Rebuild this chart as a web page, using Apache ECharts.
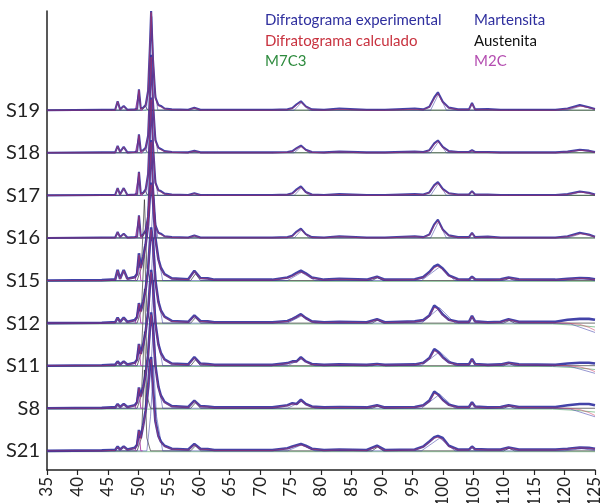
<!DOCTYPE html>
<html>
<head>
<meta charset="utf-8">
<script src="https://cdn.jsdelivr.net/npm/echarts@6/dist/echarts.min.js"></script>
<style>
  html, body { margin: 0; padding: 0; background: #fff; }
  #chart { width: 601px; height: 503px; }
</style>
</head>
<body>
<div id="chart"></div>
<script>
// 2θ (graus) comum a todos os difratogramas experimentais/calculados
var theta = [35, 44, 45.6, 45.9, 46.2, 46.6, 47.0, 47.6, 48.2, 49.4, 49.8, 50.1, 50.4, 50.8, 51.2, 51.6, 51.9, 52.1, 52.4, 52.8,
  53.3, 53.7, 54.3, 55.5, 58.2, 59.2, 60.2, 61.4, 62.5, 72, 74.5, 75.3, 76.0, 76.7, 77.5, 78.5, 80.5, 83, 87.5, 89.2,
  90.5, 95.4, 96.8, 97.8, 98.6, 99.2, 100.0, 101.0, 102.5, 104.3, 104.8, 105.3, 107.4, 109.5, 110.8, 112.5, 118.5, 120.5, 122.5, 124, 125]

// amostras, de baixo para cima
var samples = ['S21', 'S8', 'S11', 'S12', 'S15', 'S16', 'S17', 'S18', 'S19']
var xTicks = [35, 40, 45, 50, 55, 60, 65, 70, 75, 80, 85, 90, 95, 100, 105, 110, 115, 120, 125]

// difratograma experimental (intensidade relativa)
var expS19 = [0, 0.01, 0.01, 0.05, 0.01, 0.21, 0.02, 0.10, 0.01, 0.02, 0.03, 0.49, 0.04, 0.06, 0.12, 0.45, 1.5, 2.33, 1.2, 0.3,
  0.12, 0.1, 0.04, 0.02, 0.01, 0.06, 0.01, 0.01, 0.01, 0.01, 0.02, 0.05, 0.14, 0.21, 0.09, 0.02, 0.01, 0.04, 0.01, 0.01,
  0.01, 0.04, 0.02, 0.08, 0.30, 0.42, 0.20, 0.06, 0.02, 0.02, 0.17, 0.02, 0.03, 0.01, 0.01, 0.01, 0.01, 0.04, 0.12, 0.07, 0.03]
var expS18 = [0, 0.01, 0.01, 0.04, 0.01, 0.16, 0.02, 0.14, 0.01, 0.02, 0.03, 0.43, 0.04, 0.06, 0.12, 0.4, 1.4, 2.3, 1.2, 0.3,
  0.12, 0.09, 0.04, 0.02, 0.01, 0.05, 0.01, 0.01, 0.01, 0.01, 0.02, 0.04, 0.11, 0.17, 0.07, 0.02, 0.01, 0.03, 0.01, 0.01,
  0.01, 0.03, 0.02, 0.06, 0.22, 0.29, 0.14, 0.04, 0.02, 0.02, 0.06, 0.02, 0.02, 0.01, 0.01, 0.01, 0.01, 0.03, 0.07, 0.05, 0.02]
var expS17 = [0, 0.01, 0.01, 0.04, 0.01, 0.17, 0.02, 0.17, 0.01, 0.02, 0.03, 0.55, 0.04, 0.06, 0.14, 0.5, 1.5, 2.3, 1.2, 0.3,
  0.12, 0.1, 0.04, 0.02, 0.01, 0.05, 0.01, 0.01, 0.01, 0.01, 0.02, 0.05, 0.14, 0.21, 0.08, 0.02, 0.01, 0.03, 0.01, 0.01,
  0.01, 0.03, 0.02, 0.07, 0.24, 0.31, 0.15, 0.05, 0.02, 0.02, 0.1, 0.02, 0.02, 0.01, 0.01, 0.01, 0.01, 0.03, 0.09, 0.06, 0.02]
var expS16 = [0, 0.01, 0.01, 0.04, 0.01, 0.14, 0.02, 0.10, 0.01, 0.02, 0.03, 0.53, 0.04, 0.08, 0.18, 0.5, 1.5, 2.3, 1.2, 0.3,
  0.12, 0.1, 0.04, 0.02, 0.01, 0.06, 0.01, 0.01, 0.01, 0.01, 0.02, 0.05, 0.15, 0.22, 0.09, 0.02, 0.01, 0.04, 0.01, 0.01,
  0.01, 0.04, 0.02, 0.08, 0.32, 0.43, 0.2, 0.06, 0.02, 0.02, 0.12, 0.02, 0.03, 0.01, 0.01, 0.01, 0.01, 0.04, 0.12, 0.08, 0.03]
var expS15 = [0, 0.01, 0.02, 0.05, 0.02, 0.25, 0.04, 0.25, 0.04, 0.08, 0.15, 0.64, 0.3, 0.55, 0.85, 1.3, 2.0, 2.3, 1.9, 1.0,
  0.5, 0.3, 0.15, 0.05, 0.03, 0.23, 0.06, 0.05, 0.02, 0.02, 0.07, 0.12, 0.18, 0.23, 0.17, 0.07, 0.02, 0.04, 0.02, 0.09,
  0.02, 0.03, 0.08, 0.2, 0.33, 0.37, 0.28, 0.12, 0.03, 0.02, 0.09, 0.03, 0.02, 0.03, 0.07, 0.03, 0.02, 0.04, 0.06, 0.05, 0.03]
var expS12 = [0, 0.01, 0.02, 0.04, 0.02, 0.13, 0.03, 0.13, 0.03, 0.07, 0.14, 0.47, 0.28, 0.5, 0.8, 1.25, 1.9, 2.25, 1.9, 1.0,
  0.5, 0.3, 0.15, 0.05, 0.03, 0.18, 0.05, 0.04, 0.02, 0.02, 0.05, 0.1, 0.15, 0.21, 0.12, 0.04, 0.02, 0.03, 0.02, 0.09,
  0.02, 0.04, 0.07, 0.18, 0.41, 0.35, 0.2, 0.08, 0.03, 0.03, 0.17, 0.04, 0.02, 0.03, 0.09, 0.03, 0.03, 0.08, 0.1, 0.1, 0.08]
var expS11 = [0, 0.01, 0.02, 0.04, 0.02, 0.1, 0.03, 0.1, 0.03, 0.07, 0.14, 0.51, 0.28, 0.5, 0.8, 1.25, 1.9, 2.25, 1.9, 1.0,
  0.5, 0.3, 0.15, 0.05, 0.03, 0.2, 0.05, 0.04, 0.02, 0.02, 0.06, 0.1, 0.1, 0.2, 0.1, 0.04, 0.02, 0.03, 0.02, 0.04,
  0.02, 0.03, 0.07, 0.18, 0.39, 0.33, 0.2, 0.08, 0.03, 0.03, 0.16, 0.04, 0.02, 0.03, 0.07, 0.03, 0.02, 0.05, 0.07, 0.07, 0.05]
var expS8 = [0, 0.01, 0.02, 0.04, 0.02, 0.1, 0.03, 0.1, 0.03, 0.07, 0.14, 0.49, 0.28, 0.5, 0.8, 1.25, 1.9, 2.25, 1.9, 1.0,
  0.5, 0.3, 0.15, 0.05, 0.03, 0.18, 0.05, 0.04, 0.02, 0.02, 0.07, 0.12, 0.1, 0.2, 0.1, 0.04, 0.02, 0.03, 0.02, 0.07,
  0.02, 0.03, 0.07, 0.18, 0.39, 0.33, 0.2, 0.08, 0.03, 0.03, 0.14, 0.04, 0.02, 0.03, 0.07, 0.03, 0.03, 0.07, 0.1, 0.1, 0.07]
var expS21 = [0, 0.01, 0.02, 0.04, 0.02, 0.1, 0.03, 0.1, 0.03, 0.07, 0.14, 0.49, 0.3, 0.6, 0.95, 1.5, 2.1, 2.2, 1.5, 0.7,
  0.35, 0.22, 0.12, 0.05, 0.03, 0.16, 0.05, 0.04, 0.02, 0.02, 0.06, 0.1, 0.13, 0.16, 0.12, 0.05, 0.02, 0.03, 0.02, 0.12,
  0.02, 0.03, 0.1, 0.22, 0.32, 0.35, 0.3, 0.12, 0.03, 0.03, 0.1, 0.04, 0.03, 0.03, 0.08, 0.03, 0.03, 0.05, 0.08, 0.07, 0.05]

// difratograma calculado
var calcS19 = [0, 0, 0, 0.04, 0, 0.2, 0.01, 0.09, 0, 0.01, 0.02, 0.47, 0.03, 0.05, 0.1, 0.42, 1.45, 2.3, 1.25, 0.28,
  0.1, 0.08, 0.03, 0.01, 0, 0.05, 0, 0, 0, 0, 0.01, 0.04, 0.12, 0.19, 0.08, 0.01, 0, 0.02, 0, 0,
  0, 0.02, 0.01, 0.07, 0.27, 0.39, 0.18, 0.05, 0.01, 0.01, 0.15, 0.01, 0.01, 0, 0, 0, 0, 0.03, 0.1, 0.06, 0.02]
var calcS18 = [0, 0, 0, 0.03, 0, 0.15, 0.01, 0.13, 0, 0.01, 0.02, 0.41, 0.03, 0.05, 0.1, 0.38, 1.35, 2.25, 1.2, 0.28,
  0.1, 0.07, 0.03, 0.01, 0, 0.04, 0, 0, 0, 0, 0.01, 0.03, 0.1, 0.15, 0.06, 0.01, 0, 0.02, 0, 0,
  0, 0.02, 0.01, 0.05, 0.2, 0.27, 0.12, 0.03, 0.01, 0.01, 0.05, 0.01, 0.01, 0, 0, 0, 0, 0.02, 0.06, 0.04, 0.01]
var calcS17 = [0, 0, 0, 0.03, 0, 0.16, 0.01, 0.16, 0, 0.01, 0.02, 0.53, 0.03, 0.05, 0.12, 0.47, 1.45, 2.25, 1.2, 0.28,
  0.1, 0.08, 0.03, 0.01, 0, 0.04, 0, 0, 0, 0, 0.01, 0.04, 0.12, 0.19, 0.07, 0.01, 0, 0.02, 0, 0,
  0, 0.02, 0.01, 0.06, 0.22, 0.29, 0.13, 0.04, 0.01, 0.01, 0.09, 0.01, 0.01, 0, 0, 0, 0, 0.02, 0.08, 0.05, 0.01]
var calcS16 = [0, 0, 0, 0.03, 0, 0.13, 0.01, 0.09, 0, 0.01, 0.02, 0.51, 0.03, 0.07, 0.16, 0.47, 1.45, 2.25, 1.2, 0.28,
  0.1, 0.08, 0.03, 0.01, 0, 0.05, 0, 0, 0, 0, 0.01, 0.04, 0.13, 0.2, 0.08, 0.01, 0, 0.03, 0, 0,
  0, 0.03, 0.01, 0.07, 0.29, 0.4, 0.18, 0.05, 0.01, 0.01, 0.11, 0.01, 0.02, 0, 0, 0, 0, 0.03, 0.1, 0.07, 0.02]
var calcS15 = [0, 0, 0.01, 0.04, 0.01, 0.23, 0.03, 0.23, 0.03, 0.07, 0.13, 0.6, 0.28, 0.52, 0.82, 1.25, 1.95, 2.25, 1.85, 0.95,
  0.47, 0.28, 0.13, 0.04, 0.02, 0.21, 0.05, 0.04, 0.01, 0.01, 0.06, 0.1, 0.16, 0.2, 0.15, 0.06, 0.01, 0.03, 0.01, 0.08,
  0.01, 0.02, 0.07, 0.18, 0.3, 0.34, 0.26, 0.1, 0.02, 0.01, 0.08, 0.02, 0.01, 0.02, 0.06, 0.02, 0.01, 0.03, 0.05, 0.04, 0.02]
var calcS12 = [0, 0, 0.01, 0.03, 0.01, 0.12, 0.02, 0.12, 0.02, 0.06, 0.12, 0.45, 0.26, 0.48, 0.78, 1.2, 1.85, 2.2, 1.85, 0.95,
  0.47, 0.28, 0.13, 0.04, 0.02, 0.16, 0.04, 0.03, 0.01, 0.01, 0.04, 0.09, 0.14, 0.19, 0.11, 0.03, 0.01, 0.02, 0.01, 0.08,
  0.01, 0.03, 0.06, 0.16, 0.37, 0.33, 0.18, 0.07, 0.02, 0.02, 0.15, 0.03, 0.01, 0.02, 0.08, 0.02, 0.01, 0.0, -0.03, -0.1, -0.17]
var calcS11 = [0, 0, 0.01, 0.03, 0.01, 0.09, 0.02, 0.09, 0.02, 0.06, 0.12, 0.49, 0.26, 0.48, 0.78, 1.2, 1.85, 2.2, 1.85, 0.95,
  0.47, 0.28, 0.13, 0.04, 0.02, 0.18, 0.04, 0.03, 0.01, 0.01, 0.05, 0.09, 0.09, 0.18, 0.09, 0.03, 0.01, 0.02, 0.01, 0.03,
  0.01, 0.02, 0.06, 0.16, 0.35, 0.31, 0.18, 0.07, 0.02, 0.02, 0.14, 0.03, 0.01, 0.02, 0.06, 0.02, 0.01, 0.0, -0.03, -0.08, -0.14]
var calcS8 = [0, 0, 0.01, 0.03, 0.01, 0.09, 0.02, 0.09, 0.02, 0.06, 0.12, 0.47, 0.26, 0.48, 0.78, 1.2, 1.85, 2.2, 1.85, 0.95,
  0.47, 0.28, 0.13, 0.04, 0.02, 0.16, 0.04, 0.03, 0.01, 0.01, 0.06, 0.1, 0.09, 0.18, 0.09, 0.03, 0.01, 0.02, 0.01, 0.06,
  0.01, 0.02, 0.06, 0.16, 0.35, 0.31, 0.18, 0.07, 0.02, 0.02, 0.12, 0.03, 0.01, 0.02, 0.06, 0.02, 0.01, 0.0, -0.03, -0.1, -0.17]
var calcS21 = [0, 0, 0.01, 0.03, 0.01, 0.09, 0.02, 0.09, 0.02, 0.06, 0.12, 0.47, 0.28, 0.57, 0.9, 1.45, 2.05, 2.15, 1.45, 0.66,
  0.32, 0.2, 0.1, 0.04, 0.02, 0.14, 0.04, 0.03, 0.01, 0.01, 0.05, 0.09, 0.12, 0.14, 0.1, 0.04, 0.01, 0.02, 0.01, 0.1,
  0.01, 0.02, 0.09, 0.2, 0.3, 0.32, 0.27, 0.1, 0.02, 0.02, 0.09, 0.03, 0.02, 0.02, 0.07, 0.02, 0.02, 0.04, 0.07, 0.06, 0.04]

// fases ajustadas: pares [2θ, intensidade]
var martS19 = [[35, 0], [51.3, 0], [51.8, 0.6], [52.2, 2.2], [52.6, 0.6], [53.2, 0], [75.6, 0], [76.8, 0.18], [78, 0], [98, 0], [99.3, 0.38], [100.6, 0], [120.5, 0], [122.7, 0.1], [125, 0.02]]
var martS18 = [[35, 0], [51.3, 0], [51.8, 0.6], [52.2, 2.2], [52.6, 0.6], [53.2, 0], [75.6, 0], [76.8, 0.15], [78, 0], [98, 0], [99.3, 0.26], [100.6, 0], [120.5, 0], [122.7, 0.06], [125, 0.01]]
var martS17 = [[35, 0], [51.3, 0], [51.8, 0.6], [52.2, 2.2], [52.6, 0.6], [53.2, 0], [75.6, 0], [76.8, 0.18], [78, 0], [98, 0], [99.3, 0.28], [100.6, 0], [120.5, 0], [122.7, 0.08], [125, 0.01]]
var martS16 = [[35, 0], [51.3, 0], [51.8, 0.6], [52.2, 2.2], [52.6, 0.6], [53.2, 0], [75.6, 0], [76.8, 0.19], [78, 0], [98, 0], [99.3, 0.38], [100.6, 0], [120.5, 0], [122.7, 0.1], [125, 0.02]]
var martS15 = [[35, 0], [51.4, 0], [52, 0.8], [52.5, 2.0], [53, 0.8], [54, 0], [74.5, 0], [76.8, 0.19], [79, 0], [96.5, 0], [99.5, 0.32], [102, 0], [120, 0], [122.8, 0.05], [125, 0.01]]
var martS12 = [[35, 0], [51.4, 0], [52, 0.8], [52.5, 2.0], [53, 0.8], [54, 0], [74.5, 0], [76.8, 0.17], [79, 0], [96.5, 0], [99.5, 0.36], [102, 0], [118, 0], [121, -0.02], [125, -0.22]]
var martS11 = [[35, 0], [51.4, 0], [52, 0.8], [52.5, 2.0], [53, 0.8], [54, 0], [74.5, 0], [76.8, 0.16], [79, 0], [96.5, 0], [99.5, 0.33], [102, 0], [118, 0], [121, -0.02], [125, -0.18]]
var martS8 = [[35, 0], [51.4, 0], [52, 0.8], [52.5, 2.0], [53, 0.8], [54, 0], [74.5, 0], [76.8, 0.16], [79, 0], [96.5, 0], [99.5, 0.33], [102, 0], [118, 0], [121, -0.02], [125, -0.2]]
var martS21 = [[35, 0], [51.4, 0], [52, 0.8], [52.5, 2.0], [53, 0.8], [54, 0], [74.5, 0], [76.8, 0.14], [79, 0], [96.5, 0], [99.5, 0.3], [102, 0], [120, 0], [122.8, 0.05], [125, 0.01]]

var austS19 = [[35, 0], [50.6, 0], [51.1, 0.1], [51.6, 0], [125, 0]]
var austS18 = [[35, 0], [50.6, 0], [51.1, 0.08], [51.6, 0], [125, 0]]
var austS17 = [[35, 0], [50.6, 0], [51.1, 0.1], [51.6, 0], [125, 0]]
var austS16 = [[35, 0], [50.6, 0], [51.1, 0.15], [51.6, 0], [125, 0]]
var austS15 = [[35, 0], [49.8, 0], [50.5, 0.3], [51.0, 1.9], [51.4, 0.3], [52, 0], [58.6, 0], [59.4, 0.16], [60.2, 0], [88.4, 0], [89.3, 0.07], [90.2, 0], [110, 0], [110.9, 0.05], [111.8, 0], [125, 0]]
var austS12 = [[35, 0], [49.8, 0], [50.5, 0.3], [51.0, 1.8], [51.4, 0.3], [52, 0], [58.6, 0], [59.4, 0.13], [60.2, 0], [88.4, 0], [89.3, 0.07], [90.2, 0], [110, 0], [110.9, 0.06], [111.8, 0], [125, 0]]
var austS11 = [[35, 0], [49.8, 0], [50.5, 0.3], [51.0, 1.8], [51.4, 0.3], [52, 0], [58.6, 0], [59.4, 0.14], [60.2, 0], [88.4, 0], [89.3, 0.03], [90.2, 0], [110, 0], [110.9, 0.05], [111.8, 0], [125, 0]]
var austS8 = [[35, 0], [49.8, 0], [50.5, 0.3], [51.0, 1.8], [51.4, 0.3], [52, 0], [58.6, 0], [59.4, 0.13], [60.2, 0], [88.4, 0], [89.3, 0.05], [90.2, 0], [110, 0], [110.9, 0.05], [111.8, 0], [125, 0]]
var austS21 = [[35, 0], [49.8, 0], [50.5, 0.3], [51.0, 1.9], [51.4, 0.3], [52, 0], [58.6, 0], [59.4, 0.12], [60.2, 0], [88.4, 0], [89.3, 0.09], [90.2, 0], [110, 0], [110.9, 0.06], [111.8, 0], [125, 0]]

var m7c3Flat = [[35, 0], [125, 0]]
var m7c3S15 = [[35, -0.02], [125, -0.02]]
var m7c3Drop = [[35, -0.02], [118, -0.02], [122, -0.05], [125, -0.09]]

var m2cS19 = [[49.5, 0], [49.8, 0], [50.1, 0.45], [50.4, 0], [50.7, 0]]
var m2cS18 = [[49.5, 0], [49.8, 0], [50.1, 0.4], [50.4, 0], [50.7, 0]]
var m2cS17 = [[49.5, 0], [49.8, 0], [50.1, 0.52], [50.4, 0], [50.7, 0]]
var m2cS16 = [[49.5, 0], [49.8, 0], [50.1, 0.5], [50.4, 0], [50.7, 0]]
var m2cS15 = [[49.5, 0], [49.8, 0], [50.1, 0.58], [50.4, 0], [50.7, 0]]
var m2cS12 = [[49.5, 0], [49.8, 0], [50.1, 0.44], [50.4, 0], [50.7, 0]]
var m2cS11 = [[49.5, 0], [49.8, 0], [50.1, 0.48], [50.4, 0], [50.7, 0]]
var m2cS8 = [[49.5, 0], [49.8, 0], [50.1, 0.46], [50.4, 0], [50.7, 0]]
var m2cS21 = [[49.5, 0], [49.8, 0], [50.1, 0.46], [50.4, 0], [50.7, 0]]

var expData = { S19: expS19, S18: expS18, S17: expS17, S16: expS16, S15: expS15, S12: expS12, S11: expS11, S8: expS8, S21: expS21 }
var calcData = { S19: calcS19, S18: calcS18, S17: calcS17, S16: calcS16, S15: calcS15, S12: calcS12, S11: calcS11, S8: calcS8, S21: calcS21 }
var martData = { S19: martS19, S18: martS18, S17: martS17, S16: martS16, S15: martS15, S12: martS12, S11: martS11, S8: martS8, S21: martS21 }
var austData = { S19: austS19, S18: austS18, S17: austS17, S16: austS16, S15: austS15, S12: austS12, S11: austS11, S8: austS8, S21: austS21 }
var m7c3Data = { S19: m7c3Flat, S18: m7c3Flat, S17: m7c3Flat, S16: m7c3Flat, S15: m7c3S15, S12: m7c3Drop, S11: m7c3Drop, S8: m7c3Drop, S21: m7c3S15 }
var m2cData = { S19: m2cS19, S18: m2cS18, S17: m2cS17, S16: m2cS16, S15: m2cS15, S12: m2cS12, S11: m2cS11, S8: m2cS8, S21: m2cS21 }
// amostras com picos largos (traço experimental mais espesso)
var broadSamples = ['S15', 'S12', 'S11', 'S8', 'S21']

// cores
var cExp = '#2f2f9e'
var cCalc = '#cf2f55'
var cM7C3 = '#8fc79c'
var cMart = '#4444aa'
var cAust = '#222222'
var cM2C = '#b44db0'

var base0 = 0.45  // linha de base da amostra mais baixa

function shiftPairs(pairs, off) {
  return pairs.map(function (p) { return [p[0], p[1] + off] })
}
function shiftList(vals, off) {
  return vals.map(function (v, i) { return [theta[i], v + off] })
}

var series = []
samples.forEach(function (s, k) {
  var off = base0 + k
  var wExp = broadSamples.indexOf(s) >= 0 ? 2.6 : 2.1
  var common = { type: 'line', symbol: 'none', silent: true, animation: false }
  series.push(Object.assign({ name: 'M7C3', data: shiftPairs(m7c3Data[s], off), lineStyle: { color: cM7C3, width: 1 }, z: 1 }, common))
  series.push(Object.assign({ name: 'Austenita', data: shiftPairs(austData[s], off), lineStyle: { color: cAust, width: 0.8, opacity: 0.8 }, z: 2 }, common))
  series.push(Object.assign({ name: 'Martensita', data: shiftPairs(martData[s], off), lineStyle: { color: cMart, width: 0.8, opacity: 0.7 }, z: 2 }, common))
  series.push(Object.assign({ name: 'M2C', data: shiftPairs(m2cData[s], off), lineStyle: { color: cM2C, width: 1 }, z: 2 }, common))
  series.push(Object.assign({ name: 'Difratograma experimental', data: shiftList(expData[s], off), lineStyle: { color: cExp, width: wExp, opacity: 0.9 }, z: 3 }, common))
  series.push(Object.assign({ name: 'Difratograma calculado', data: shiftList(calcData[s], off), lineStyle: { color: cCalc, width: 1, opacity: 0.5 }, z: 4 }, common))
})

var labelValues = samples.map(function (s, k) { return base0 + k })

var chart = echarts.init(document.getElementById('chart'))
var option = {
  backgroundColor: '#fff',
  animation: false,
  grid: { left: 47, right: 6, top: 11, bottom: 33, outerBoundsMode: 'none', containLabel: false },
  xAxis: {
    type: 'value',
    min: 35,
    max: 125,
    interval: 5,
    axisLine: { lineStyle: { color: '#222', width: 1.5 } },
    axisTick: { show: true, length: 5, lineStyle: { color: '#222', width: 1.2 } },
    splitLine: { show: false },
    axisLabel: {
      rotate: 90,
      fontSize: 17,
      fontFamily: 'Lato',
      color: '#222',
      margin: 7,
      customValues: xTicks
    }
  },
  yAxis: {
    type: 'value',
    min: 0,
    max: 10.78,
    axisLine: { show: true, lineStyle: { color: '#222', width: 1.5 } },
    axisTick: { show: false },
    splitLine: { show: false },
    axisLabel: {
      customValues: labelValues,
      fontSize: 20,
      fontFamily: 'Lato',
      color: '#222',
      margin: 7,
      formatter: function (v) { return samples[Math.round(v - base0)] }
    }
  },
  graphic: [
    { type: 'text', left: 265, top: 13, style: { text: 'Difratograma experimental', fill: cExp, font: '15px Lato' } },
    { type: 'text', left: 265, top: 34, style: { text: 'Difratograma calculado', fill: '#c8323f', font: '15px Lato' } },
    { type: 'text', left: 265, top: 54, style: { text: 'M7C3', fill: '#2e8b3e', font: '15px Lato' } },
    { type: 'text', left: 474, top: 13, style: { text: 'Martensita', fill: cExp, font: '15px Lato' } },
    { type: 'text', left: 474, top: 34, style: { text: 'Austenita', fill: '#111', font: '15px Lato' } },
    { type: 'text', left: 474, top: 54, style: { text: 'M2C', fill: cM2C, font: '15px Lato' } }
  ],
  series: series
}
option && chart.setOption(option)
</script>
</body>
</html>
